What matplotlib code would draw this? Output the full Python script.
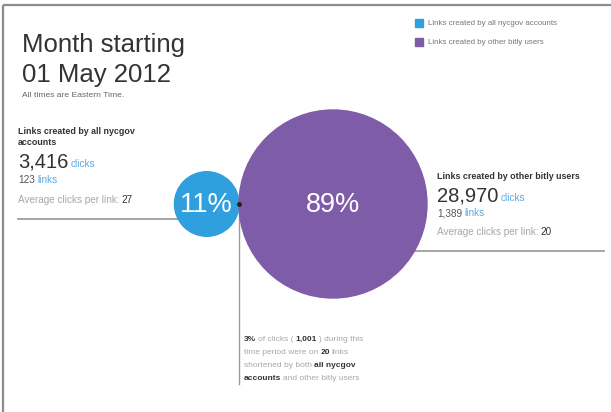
import numpy as np
import matplotlib
matplotlib.use("Agg")
from matplotlib import pyplot as plt
from matplotlib.patches import Circle, Rectangle

plt.rcParams['font.family'] = ['Liberation Sans', 'DejaVu Sans']

# data
groups = ['Links created by all nycgov accounts', 'Links created by other bitly users']
clicks = [3416, 28970]
links = [123, 1389]
avg_clicks = [27, 20]
shares = [11, 89]
overlap_pct = 3
overlap_clicks = 1001
overlap_links = 20

colors = ['#2f9fdd', '#7f5ca8']
DARK = '#333333'
GREY = '#a8a8a8'
LINK = '#5aaae0'

fig = plt.figure(figsize=(6.11, 4.12), dpi=100)
ax = fig.add_axes([0, 0, 1, 1])
ax.set_xlim(0, 611)
ax.set_ylim(412, 0)
ax.axis('off')
renderer = fig.canvas.get_renderer()


def rich(x, y, parts, size):
    # draw pieces of text one after another on the same baseline
    for txt, color, weight in parts:
        t = ax.text(x, y, txt, color=color, fontsize=size, fontweight=weight,
                    va='baseline', ha='left')
        bb = t.get_window_extent(renderer)
        x = ax.transData.inverted().transform((bb.x1, bb.y0))[0]
    return x


def fmt(v):
    return f"{v:,}"


# frame
ax.plot([3, 3], [5, 412], color='#8c8c8c', lw=1.6, solid_capstyle='butt')
ax.plot([3, 611], [5, 5], color='#8c8c8c', lw=1.6, solid_capstyle='butt')

# title
ax.text(22, 52, 'Month starting', fontsize=18.5, color=DARK, va='baseline')
ax.text(22, 82, '01 May 2012', fontsize=18.5, color=DARK, va='baseline')
ax.text(22, 97, 'All times are Eastern Time.', fontsize=6.1, color='#666666', va='baseline')

# legend
for i, g in enumerate(groups):
    ly = 23 + i * 19
    ax.add_patch(Rectangle((415, ly - 4), 8, 8, color=colors[i]))
    ax.text(428, ly, g, fontsize=5.7, color='#777777', va='center')

# circles sized by clicks
R = 94
radii = [R * np.sqrt(c / max(clicks)) for c in clicks]
cy = 204
tx = 239
cx = [tx - radii[0], tx + radii[1]]

# connector lines
ax.plot([18, cx[0]], [219, 219], color='#a39d9b', lw=1.3, zorder=1)
ax.plot([cx[1], 604], [251, 251], color='#a39d9b', lw=1.3, zorder=1)
ax.plot([tx, tx], [cy, 384], color='#9a9a9a', lw=1.0, zorder=1)

for i in range(2):
    ax.add_patch(Circle((cx[i], cy), radii[i], color=colors[i], zorder=2))
    ax.text(cx[i], cy + 1, f'{shares[i]}%', color='white', fontsize=19.5,
            ha='center', va='center', zorder=3)
ax.plot([tx], [cy], 'o', color='#222222', ms=2.5, zorder=4)

# left block
lx = 18
hs = 6.4
ss = 7.2
ax.text(lx, 134, 'Links created by all nycgov', fontsize=hs, fontweight='bold', color=DARK, va='baseline')
ax.text(lx, 145, 'accounts', fontsize=hs, fontweight='bold', color=DARK, va='baseline')
x = rich(lx, 167, [(fmt(clicks[0]), DARK, 'normal')], 14.5)
rich(x + 2, 167, [('clicks', LINK, 'normal')], ss)
x = rich(lx, 183, [(fmt(links[0]), '#555555', 'normal')], ss)
rich(x + 2, 183, [('links', LINK, 'normal')], ss)
x = rich(lx, 203, [('Average clicks per link:', GREY, 'normal')], ss)
rich(x + 2, 203, [(str(avg_clicks[0]), DARK, 'normal')], ss)

# right block
rx = 437
ax.text(rx, 179, groups[1], fontsize=hs, fontweight='bold', color=DARK, va='baseline')
x = rich(rx, 201, [(fmt(clicks[1]), DARK, 'normal')], 14.5)
rich(x + 2, 201, [('clicks', LINK, 'normal')], ss)
x = rich(rx, 216, [(fmt(links[1]), '#555555', 'normal')], ss)
rich(x + 2, 216, [('links', LINK, 'normal')], ss)
x = rich(rx, 235, [('Average clicks per link:', GREY, 'normal')], ss)
rich(x + 2, 235, [(str(avg_clicks[1]), DARK, 'normal')], ss)

# overlap note
nx = 244
fs = 6
x = rich(nx, 341, [(f'{overlap_pct}%', DARK, 'bold')], fs)
x = rich(x + 2, 341, [('of clicks (', GREY, 'normal')], fs)
x = rich(x + 2, 341, [(fmt(overlap_clicks), DARK, 'bold')], fs)
rich(x + 2, 341, [(') during this', GREY, 'normal')], fs)
x = rich(nx, 354, [('time period were on', GREY, 'normal')], fs)
x = rich(x + 2, 354, [(str(overlap_links), DARK, 'bold')], fs)
rich(x + 2, 354, [('links', GREY, 'normal')], fs)
x = rich(nx, 367, [('shortened by both', GREY, 'normal')], fs)
rich(x + 2, 367, [('all nycgov', DARK, 'bold')], fs)
x = rich(nx, 380, [('accounts', DARK, 'bold')], fs)
rich(x + 2, 380, [('and other bitly users', GREY, 'normal')], fs)

fig.savefig('out.png', dpi=100)
